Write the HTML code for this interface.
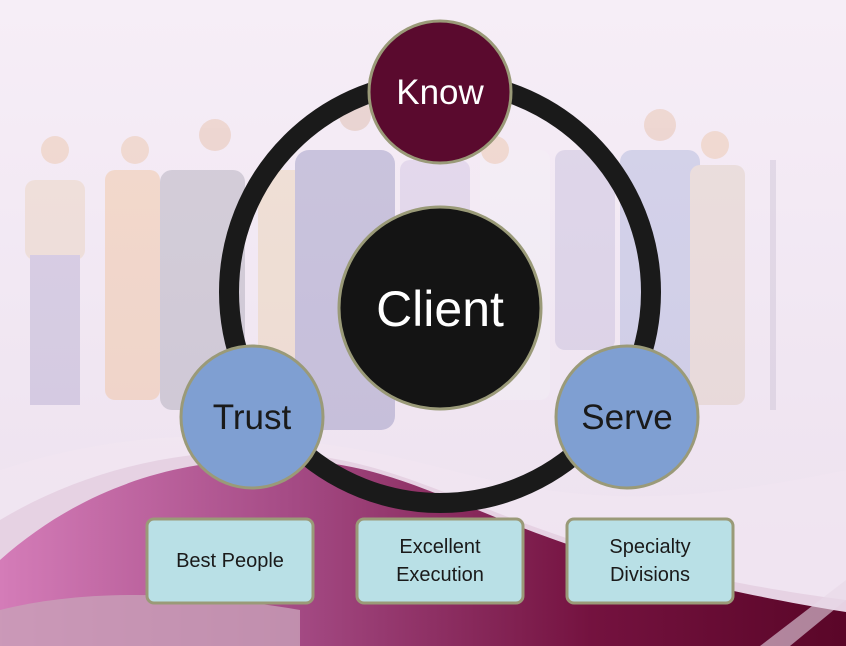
<!DOCTYPE html>
<html><head><meta charset="utf-8"><style>
html,body{margin:0;padding:0;width:846px;height:646px;overflow:hidden;background:#f3eaf4;}
svg{display:block}
text{font-family:"Liberation Sans","DejaVu Sans",sans-serif;}
</style></head><body>
<svg width="846" height="646" viewBox="0 0 846 646" xmlns="http://www.w3.org/2000/svg">
<defs>
<linearGradient id="wg" x1="0" y1="0" x2="1" y2="0">
<stop offset="0" stop-color="#d47cb8"/>
<stop offset="0.35" stop-color="#a44a84"/>
<stop offset="0.7" stop-color="#74123f"/>
<stop offset="1" stop-color="#5a0628"/>
</linearGradient>
<linearGradient id="bg" x1="0" y1="0" x2="0" y2="1">
<stop offset="0" stop-color="#f6eef7"/>
<stop offset="1" stop-color="#ece0ee"/>
</linearGradient>
</defs>
<rect width="846" height="646" fill="url(#bg)"/>
<g opacity="0.3">
<rect x="25" y="180" width="60" height="80" rx="10" fill="#e8c8a0"/>
<rect x="30" y="255" width="50" height="150" fill="#9a8fc0"/>
<rect x="105" y="170" width="55" height="230" rx="10" fill="#f0b070"/>
<rect x="160" y="170" width="85" height="240" rx="12" fill="#8a8a9a"/>
<rect x="258" y="170" width="50" height="220" rx="8" fill="#e8c890"/>
<rect x="295" y="150" width="100" height="280" rx="14" fill="#6a6aa8"/>
<rect x="400" y="160" width="70" height="200" rx="10" fill="#c0b0d8"/>
<rect x="480" y="150" width="70" height="250" rx="10" fill="#f4f4f8"/>
<rect x="555" y="150" width="60" height="200" rx="10" fill="#b0a8d0"/>
<rect x="620" y="150" width="80" height="250" rx="12" fill="#8a9ad0"/>
<rect x="690" y="165" width="55" height="240" rx="10" fill="#d8c0a8"/>
<rect x="770" y="160" width="6" height="250" fill="#b8b0c8"/>
<circle cx="55" cy="150" r="14" fill="#e8b080"/>
<circle cx="135" cy="150" r="14" fill="#e8b080"/>
<circle cx="215" cy="135" r="16" fill="#e0a880"/>
<circle cx="355" cy="115" r="16" fill="#d0a080"/>
<circle cx="495" cy="150" r="14" fill="#e8b080"/>
<circle cx="660" cy="125" r="16" fill="#e0a880"/>
<circle cx="715" cy="145" r="14" fill="#e8b080"/>
</g>
<path d="M0,470 C150,420 300,430 450,470 C600,510 700,500 846,470 L846,646 L0,646 Z" fill="#f2e6f2" opacity="0.6"/>
<path d="M0,520 C100,460 220,440 330,458 C460,480 540,560 846,600 L846,646 L0,646 Z" fill="#e4cde0" opacity="0.8"/>
<path d="M0,560 C90,480 200,450 320,462 C450,476 520,560 846,612 L846,646 L0,646 Z" fill="url(#wg)"/>
<path d="M0,610 C80,590 180,590 300,610 L300,646 L0,646 Z" fill="#c8a0b8" opacity="0.8"/>
<path d="M760,646 L846,580 L846,600 L790,646 Z" fill="#e8d8e8" opacity="0.6"/>
<circle cx="440" cy="292" r="211" fill="none" stroke="#1a1a1a" stroke-width="20"/>
<circle cx="440" cy="92" r="71" fill="#5a0a2e" stroke="#9a9a78" stroke-width="3"/>
<text x="440" y="104" font-size="35" fill="#fff" text-anchor="middle">Know</text>
<circle cx="440" cy="308" r="101" fill="#141414" stroke="#9a9a78" stroke-width="3"/>
<text x="440" y="326" font-size="50" fill="#fff" text-anchor="middle">Client</text>
<circle cx="252" cy="417" r="71" fill="#7f9fd2" stroke="#9a9a78" stroke-width="3"/>
<text x="252" y="429" font-size="35" fill="#1a1a1a" text-anchor="middle">Trust</text>
<circle cx="627" cy="417" r="71" fill="#7f9fd2" stroke="#9a9a78" stroke-width="3"/>
<text x="627" y="429" font-size="35" fill="#1a1a1a" text-anchor="middle">Serve</text>
<g stroke="#9a9a78" stroke-width="3" fill="#b9e0e6">
<rect x="147" y="519" width="166" height="84" rx="7"/>
<rect x="357" y="519" width="166" height="84" rx="7"/>
<rect x="567" y="519" width="166" height="84" rx="7"/>
</g>
<g font-size="20" fill="#1a1a1a" text-anchor="middle">
<text x="230" y="567">Best People</text>
<text x="440" y="553">Excellent</text>
<text x="440" y="581">Execution</text>
<text x="650" y="553">Specialty</text>
<text x="650" y="581">Divisions</text>
</g>
</svg>
</body></html>
